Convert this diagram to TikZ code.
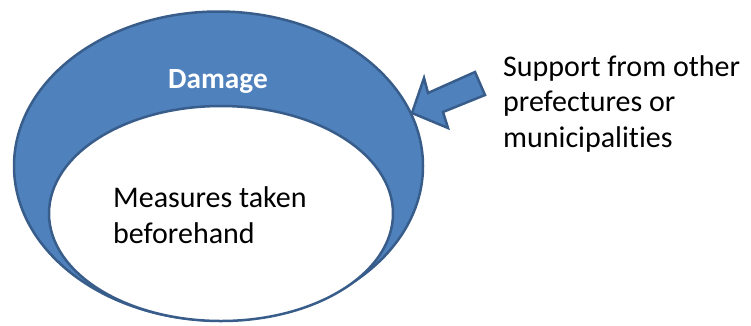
\documentclass[tikz,border=0pt]{standalone}
\usepackage{fontspec}
\setmainfont{Carlito}[Ligatures={NoCommon}]
\usetikzlibrary{shapes.geometric}
\definecolor{accentfill}{HTML}{4F81BD}
\definecolor{accentline}{HTML}{385D8A}
\tikzset{
  ring/.style={ellipse, draw=accentline, line width=2.5pt, inner sep=0pt},
  label/.style={font=\fontsize{30}{35.5}\selectfont, inner sep=0pt, align=left},
  blockarrow/.style={fill=accentfill, draw=accentline, line width=2.5pt, line join=miter}
}
\begin{document}
\begin{tikzpicture}[x=1pt, y=-1pt]
  \useasboundingbox (0,0) rectangle (751,325);
  % outer ring and the inner area it encloses
  \node[ring, fill=accentfill, minimum width=409pt, minimum height=309pt] (outer) at (218.5,166) {};
  \node[ring, fill=white, minimum width=344pt, minimum height=215pt] (inner) at (221,213.5) {};
  % labels (base anchor sits on the last line)
  \node[label, anchor=base, text=white, font=\fontsize{29.3}{35.5}\selectfont\bfseries] (damage) at (218,88) {Damage};
  \node[label, anchor=base west] (measures) at (113,243) {Measures taken\\beforehand};
  \node[label, anchor=base west] (support) at (503,147) {Support from other\\prefectures or\\municipalities};
  % block arrow pointing at the ring
  \coordinate (tip) at (412,113);
  \draw[blockarrow] (tip) -- (424,78) -- (428,93) -- (475,72) -- (485,95)
    -- (443,112) -- (448,128) -- cycle;
\end{tikzpicture}
\end{document}
